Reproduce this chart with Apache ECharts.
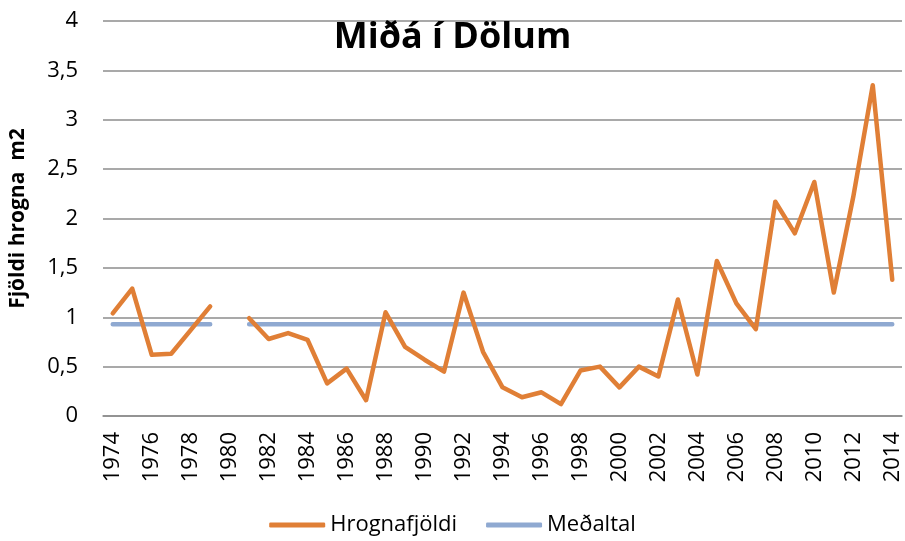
<!DOCTYPE html>
<html>
<head>
<meta charset="utf-8">
<script src="https://cdn.jsdelivr.net/npm/echarts@6/dist/echarts.min.js"></script>
<style>
html,body{margin:0;padding:0;background:#fff;}
#chart{width:905px;height:541px;}
</style>
</head>
<body>
<div id="chart"></div>
<script>
const titleText = 'Miðá í Dölum';
const yAxisName = 'Fjöldi hrogna  m2';
const years = ['1974','1975','1976','1977','1978','1979','1980','1981','1982','1983','1984','1985','1986','1987','1988','1989','1990','1991','1992','1993','1994','1995','1996','1997','1998','1999','2000','2001','2002','2003','2004','2005','2006','2007','2008','2009','2010','2011','2012','2013','2014'];
const hrognafjoldi = [1.04,1.29,0.62,0.63,0.87,1.11,null,0.99,0.78,0.84,0.77,0.33,0.48,0.16,1.05,0.70,0.57,0.45,1.25,0.65,0.29,0.19,0.24,0.12,0.46,0.50,0.29,0.50,0.40,1.18,0.42,1.57,1.14,0.88,2.17,1.85,2.37,1.25,2.22,3.35,1.38];
const medaltal = [0.93,0.93,0.93,0.93,0.93,0.93,null,0.93,0.93,0.93,0.93,0.93,0.93,0.93,0.93,0.93,0.93,0.93,0.93,0.93,0.93,0.93,0.93,0.93,0.93,0.93,0.93,0.93,0.93,0.93,0.93,0.93,0.93,0.93,0.93,0.93,0.93,0.93,0.93,0.93,0.93];
const seriesNames = ['Hrognafjöldi','Meðaltal'];
const yTickLabels = {'0':'0','0.5':'0,5','1':'1','1.5':'1,5','2':'2','2.5':'2,5','3':'3','3.5':'3,5','4':'4'};

const FONT = '"Open Sans", "Liberation Sans", sans-serif';
const chart = echarts.init(document.getElementById('chart'), null, {renderer:'canvas'});
chart.setOption({
  animation:false,
  backgroundColor:'#ffffff',
  title:{
    text:titleText, left:'center', top:20, padding:0,
    textStyle:{fontFamily:FONT, fontWeight:'bold', fontSize:36, color:'#000'}
  },
  grid:{left:103, right:3, top:21, bottom:125, containLabel:false},
  legend:{
    data:seriesNames, left:'center', top:509,
    icon:'roundRect', itemWidth:56, itemHeight:5, itemGap:29,
    textStyle:{fontFamily:FONT, fontSize:22, color:'#000'}
  },
  xAxis:{
    type:'category', data:years, boundaryGap:true,
    axisLine:{show:true, lineStyle:{color:'#8c8c8c', width:1.5}},
    axisTick:{show:false},
    axisLabel:{interval:1, rotate:90, margin:16, fontFamily:FONT, fontSize:22, color:'#000'}
  },
  yAxis:{
    type:'value', min:0, max:4, interval:0.5,
    name:yAxisName, nameLocation:'middle', nameGap:74, nameRotate:90,
    nameTextStyle:{fontFamily:FONT, fontWeight:'bold', fontSize:21, color:'#000'},
    axisLine:{show:false}, axisTick:{show:false},
    splitLine:{lineStyle:{color:'#8c8c8c', width:1.5}},
    axisLabel:{margin:25, fontFamily:FONT, fontSize:22, color:'#000',
      formatter:function(v){ return yTickLabels[String(v)] !== undefined ? yTickLabels[String(v)] : String(v).replace('.',','); }}
  },
  series:[
    {name:seriesNames[0], type:'line', data:hrognafjoldi, showSymbol:false, symbol:'none', connectNulls:false,
     itemStyle:{color:'#E07F36'},
     lineStyle:{color:'#E07F36', width:4.5, cap:'round', join:'round'}, z:3},
    {name:seriesNames[1], type:'line', data:medaltal, showSymbol:false, symbol:'none', connectNulls:false,
     itemStyle:{color:'#8FA9D1'},
     lineStyle:{color:'#8FA9D1', width:4.5, cap:'round', join:'round'}, z:2}
  ]
});
</script>
</body>
</html>
